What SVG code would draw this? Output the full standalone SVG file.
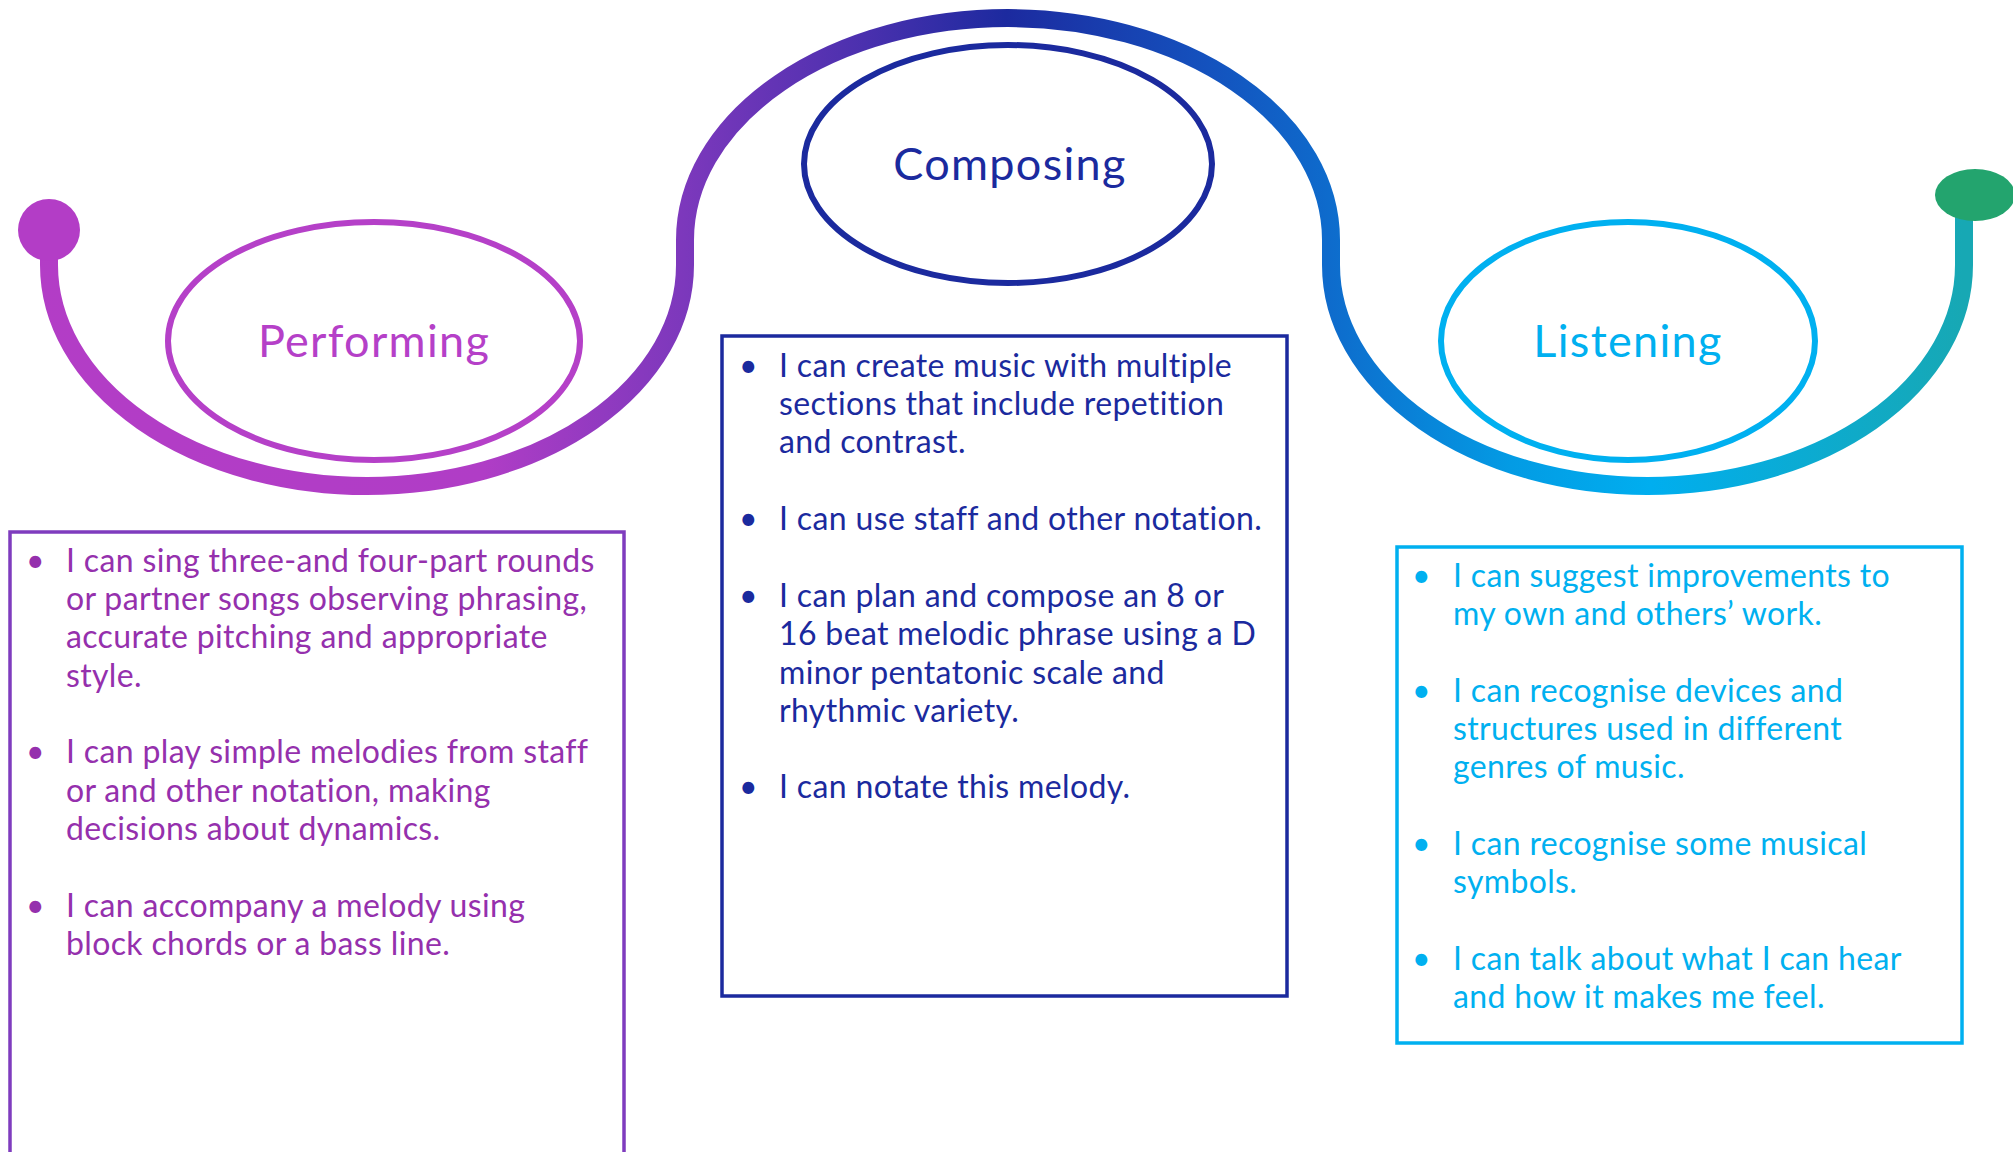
<svg xmlns="http://www.w3.org/2000/svg" width="2013" height="1152" viewBox="0 0 2013 1152">
  <defs>
    <linearGradient id="pathGrad" gradientUnits="userSpaceOnUse" x1="0" y1="0" x2="2013" y2="0">
      <stop offset="0" stop-color="#B33DC6"/>
      <stop offset="0.24" stop-color="#B03DC6"/>
      <stop offset="0.34" stop-color="#7C38BC"/>
      <stop offset="0.43" stop-color="#4A30AE"/>
      <stop offset="0.5" stop-color="#1C2A9F"/>
      <stop offset="0.6" stop-color="#1452BE"/>
      <stop offset="0.66" stop-color="#0E6BCC"/>
      <stop offset="0.75" stop-color="#039BE4"/>
      <stop offset="0.82" stop-color="#00AEEF"/>
      <stop offset="0.975" stop-color="#17A8B4"/>
    </linearGradient>
    <style>
      .body { font-family: "Lato", "Liberation Sans", sans-serif; font-size: 32px; letter-spacing: 0.35px; }
      .title { font-family: "Lato", "Liberation Sans", sans-serif; font-size: 45px; letter-spacing: 1.3px; text-anchor: middle; }
      .perf { fill: #9530AD; }
      .comp { fill: #1B2A9E; }
      .list { fill: #00B0F0; }
      .ring { fill: none; stroke-width: 6; }
      .box { fill: none; stroke-width: 3.5; }
    </style>
  </defs>

  <rect width="2013" height="1152" fill="#FFFFFF"/>

  <!-- winding path linking the three stages -->
  <g id="connectors">
    <path d="M 49 235 L 49 265 A 318 221 0 0 0 685 265 L 685 240 A 323 222 0 0 1 1331 240 L 1331 265 A 316.5 221 0 0 0 1964 265 L 1964 215"
          fill="none" stroke="url(#pathGrad)" stroke-width="18"/>
    <circle cx="49" cy="230" r="31" fill="#B33DC6"/>
    <ellipse cx="1975" cy="195" rx="40" ry="26" fill="#23A46E"/>
  </g>

  <!-- Performing -->
  <g id="performing">
    <ellipse class="ring" cx="374" cy="341" rx="206" ry="119" stroke="#B540C8"/>
    <text class="title" x="374" y="357" fill="#B540C8">Performing</text>
    <rect class="box" x="10" y="532" width="614" height="640" stroke="#7F3CBE"/>
    <g class="body perf">
      <text x="26" y="572">•</text>
      <text x="66" y="572">I can sing three-and four-part rounds</text>
      <text x="66" y="610">or partner songs observing phrasing,</text>
      <text x="66" y="648">accurate pitching and appropriate</text>
      <text x="66" y="687">style.</text>
      <text x="26" y="763">•</text>
      <text x="66" y="763">I can play simple melodies from staff</text>
      <text x="66" y="802">or and other notation, making</text>
      <text x="66" y="840">decisions about dynamics.</text>
      <text x="26" y="917">•</text>
      <text x="66" y="917">I can accompany a melody using</text>
      <text x="66" y="955">block chords or a bass line.</text>
    </g>
  </g>

  <!-- Composing -->
  <g id="composing">
    <ellipse class="ring" cx="1008" cy="164" rx="204" ry="119" stroke="#1B2A9E"/>
    <text class="title" x="1010" y="180" fill="#1B2A9E">Composing</text>
    <rect class="box" x="722" y="336" width="565" height="660" stroke="#1B2A9E"/>
    <g class="body comp">
      <text x="739" y="377">•</text>
      <text x="779" y="377">I can create music with multiple</text>
      <text x="779" y="415">sections that include repetition</text>
      <text x="779" y="453">and contrast.</text>
      <text x="739" y="530">•</text>
      <text x="779" y="530">I can use staff and other notation.</text>
      <text x="739" y="607">•</text>
      <text x="779" y="607">I can plan and compose an 8 or</text>
      <text x="779" y="645">16 beat melodic phrase using a D</text>
      <text x="779" y="684">minor pentatonic scale and</text>
      <text x="779" y="722">rhythmic variety.</text>
      <text x="739" y="798">•</text>
      <text x="779" y="798">I can notate this melody.</text>
    </g>
  </g>

  <!-- Listening -->
  <g id="listening">
    <ellipse class="ring" cx="1628" cy="341" rx="187" ry="119" stroke="#00B0F0"/>
    <text class="title" x="1628" y="357" fill="#00B0F0">Listening</text>
    <rect class="box" x="1397" y="547" width="565" height="496" stroke="#00B0F0"/>
    <g class="body list">
      <text x="1412" y="587">•</text>
      <text x="1453" y="587">I can suggest improvements to</text>
      <text x="1453" y="625">my own and others’ work.</text>
      <text x="1412" y="702">•</text>
      <text x="1453" y="702">I can recognise devices and</text>
      <text x="1453" y="740">structures used in different</text>
      <text x="1453" y="778">genres of music.</text>
      <text x="1412" y="855">•</text>
      <text x="1453" y="855">I can recognise some musical</text>
      <text x="1453" y="893">symbols.</text>
      <text x="1412" y="970">•</text>
      <text x="1453" y="970">I can talk about what I can hear</text>
      <text x="1453" y="1008">and how it makes me feel.</text>
    </g>
  </g>
</svg>
